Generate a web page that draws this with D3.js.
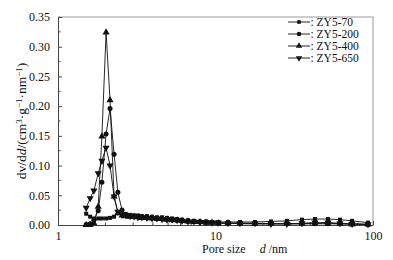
<!DOCTYPE html>
<html>
<head>
<meta charset="utf-8">
<script src="https://cdn.jsdelivr.net/npm/d3@7"></script>
<style>
  body { margin: 0; background: #fff; }
  svg text { font-family: "Liberation Serif", "Times New Roman", serif; fill: #111; }
</style>
</head>
<body>
<svg id="chart" width="393" height="260"></svg>
<script>
// pore size grid (nm), shared by all samples
var poreSize = [1.51, 1.60, 1.69, 1.80, 1.90, 2.02, 2.14, 2.27, 2.40, 2.55,
  2.70, 2.87, 3.04, 3.22, 3.41, 3.67, 3.95, 4.25, 4.58, 4.92,
  5.30, 5.70, 6.13, 6.69, 7.30, 7.97, 8.71, 9.50, 10.4, 12.0,
  14.3, 17.8, 22.5, 28.4, 35.4, 42.8, 51.8, 61.7, 73.6, 93.0];

var zy70 = [0.019, 0.014, 0.011, 0.011, 0.011, 0.011, 0.012, 0.014, 0.021, 0.018,
  0.017, 0.017, 0.016, 0.016, 0.015, 0.015, 0.014, 0.013, 0.013, 0.012,
  0.011, 0.010, 0.009, 0.008, 0.007, 0.006, 0.006, 0.005, 0.005, 0.005,
  0.005, 0.005, 0.006, 0.007, 0.009, 0.010, 0.010, 0.009, 0.007, 0.004];

var zy200 = [0.001, 0.002, 0.008, 0.024, 0.072, 0.153, 0.196, 0.119, 0.055, 0.025,
  0.018, 0.016, 0.015, 0.014, 0.013, 0.012, 0.012, 0.011, 0.010, 0.010,
  0.009, 0.008, 0.007, 0.006, 0.006, 0.005, 0.004, 0.004, 0.003, 0.003,
  0.003, 0.002, 0.002, 0.002, 0.002, 0.003, 0.003, 0.002, 0.002, 0.001];

var zy400 = [0.000, 0.000, 0.003, 0.031, 0.149, 0.324, 0.210, 0.048, 0.020, 0.016,
  0.015, 0.014, 0.014, 0.013, 0.012, 0.012, 0.011, 0.010, 0.010, 0.009,
  0.008, 0.008, 0.007, 0.006, 0.005, 0.005, 0.004, 0.004, 0.003, 0.003,
  0.002, 0.002, 0.002, 0.002, 0.002, 0.002, 0.002, 0.002, 0.001, 0.001];

var zy650 = [0.029, 0.045, 0.058, 0.087, 0.108, 0.130, 0.100, 0.048, 0.022, 0.017,
  0.016, 0.015, 0.014, 0.013, 0.013, 0.012, 0.011, 0.011, 0.010, 0.009,
  0.009, 0.008, 0.007, 0.006, 0.006, 0.005, 0.005, 0.004, 0.004, 0.003,
  0.003, 0.003, 0.002, 0.002, 0.003, 0.004, 0.004, 0.003, 0.002, 0.001];

var seriesNames = ["ZY5-70", "ZY5-200", "ZY5-400", "ZY5-650"];
var seriesValues = [zy70, zy200, zy400, zy650];

var xMajor = [1, 10, 100];
var yMajor = [0, 0.05, 0.10, 0.15, 0.20, 0.25, 0.30, 0.35];

var svg = d3.select("#chart");
var mLeft = 58, mRight = 373, mTop = 17, mBottom = 225;

var x = d3.scaleLog().domain([1, 100]).range([mLeft, mRight]);
var y = d3.scaleLinear().domain([0, 0.35]).range([mBottom, mTop]);

// minor ticks
var xMinor = [];
[1, 10].forEach(function (p) {
  for (var i = 2; i <= 9; i++) xMinor.push(p * i);
});
var yMinor = yMajor.slice(0, -1).map(function (v) { return v + 0.025; });

var g = svg.append("g");

// frame
g.append("line").attr("x1", mLeft).attr("x2", mRight).attr("y1", mTop).attr("y2", mTop)
  .attr("stroke", "#999").attr("stroke-width", 1);
g.append("line").attr("x1", mRight).attr("x2", mRight).attr("y1", mTop).attr("y2", mBottom)
  .attr("stroke", "#999").attr("stroke-width", 1);

// y axis
var yAxis = g.append("g").attr("transform", "translate(" + mLeft + ",0)")
  .call(d3.axisLeft(y).tickValues(yMajor).tickFormat(d3.format(".2f"))
    .tickSizeInner(-4).tickSizeOuter(0).tickPadding(8));
yAxis.select(".domain").attr("stroke", "#444");
yAxis.selectAll(".tick line").attr("stroke", "#444");
yAxis.selectAll("text").style("font-size", "12px");
g.append("g").selectAll("line").data(yMinor).enter().append("line")
  .attr("x1", mLeft).attr("x2", mLeft + 2.5)
  .attr("y1", function (d) { return y(d); })
  .attr("y2", function (d) { return y(d); })
  .attr("stroke", "#444");

// x axis
var xAxis = g.append("g").attr("transform", "translate(0," + mBottom + ")")
  .call(d3.axisBottom(x).tickValues(xMajor).tickFormat(d3.format("d"))
    .tickSizeInner(-4).tickSizeOuter(0).tickPadding(6));
xAxis.select(".domain").attr("stroke", "#444");
xAxis.selectAll(".tick line").attr("stroke", "#444");
xAxis.selectAll("text").style("font-size", "12px");
g.append("g").selectAll("line").data(xMinor).enter().append("line")
  .attr("x1", function (d) { return x(d); })
  .attr("x2", function (d) { return x(d); })
  .attr("y1", mBottom).attr("y2", mBottom - 2.5)
  .attr("stroke", "#444");

// axis titles
var xt = svg.append("text").attr("x", 202).attr("y", 253).style("font-size", "12px");
xt.append("tspan").text("Pore size");
xt.append("tspan").attr("dx", 14).style("font-style", "italic").text("d");
xt.append("tspan").text(" /nm");

var yt = svg.append("text")
  .attr("transform", "translate(26," + ((mTop + mBottom) / 2) + ") rotate(-90)")
  .attr("text-anchor", "middle").style("font-size", "13.5px");
yt.append("tspan").text("dv/d");
yt.append("tspan").style("font-style", "italic").text("d");
yt.append("tspan").text("/(cm");
yt.append("tspan").attr("dy", -4).style("font-size", "9px").text("3");
yt.append("tspan").attr("dy", 4).text("·g");
yt.append("tspan").attr("dy", -4).style("font-size", "9px").text("−1");
yt.append("tspan").attr("dy", 4).text("·nm");
yt.append("tspan").attr("dy", -4).style("font-size", "9px").text("−1");
yt.append("tspan").attr("dy", 4).text(")");

// series
var symbols = [
  { type: d3.symbolSquare, size: 16, rot: 0 },
  { type: d3.symbolCircle, size: 20, rot: 0 },
  { type: d3.symbolTriangle, size: 22, rot: 0 },
  { type: d3.symbolTriangle, size: 22, rot: 180 }
];

var line = d3.line()
  .x(function (d) { return x(d[0]); })
  .y(function (d) { return y(d[1]); });

seriesValues.forEach(function (vals, i) {
  var pts = poreSize.map(function (p, j) { return [p, vals[j]]; });
  var sg = svg.append("g");
  sg.append("path").datum(pts).attr("d", line)
    .attr("fill", "none").attr("stroke", "#111").attr("stroke-width", 0.9);
  sg.selectAll("path.pt").data(pts).enter().append("path").attr("class", "pt")
    .attr("d", d3.symbol().type(symbols[i].type).size(symbols[i].size))
    .attr("transform", function (d) {
      return "translate(" + x(d[0]) + "," + y(d[1]) + ") rotate(" + symbols[i].rot + ")";
    })
    .attr("fill", "#111");
});

// legend
var legend = svg.append("g").selectAll("g").data(seriesNames).enter().append("g")
  .attr("transform", function (d, i) { return "translate(288," + (22 + i * 12) + ")"; });
legend.append("line").attr("x1", 0).attr("x2", 22).attr("stroke", "#111").attr("stroke-width", 0.9);
legend.append("path")
  .attr("d", function (d, i) { return d3.symbol().type(symbols[i].type).size(symbols[i].size * 0.8)(); })
  .attr("transform", function (d, i) { return "translate(11,0) rotate(" + symbols[i].rot + ")"; })
  .attr("fill", "#111");
legend.append("text").attr("x", 22.5).attr("dy", "0.35em").style("font-size", "11.5px")
  .text(function (d) { return ": " + d; });
</script>
</body>
</html>
